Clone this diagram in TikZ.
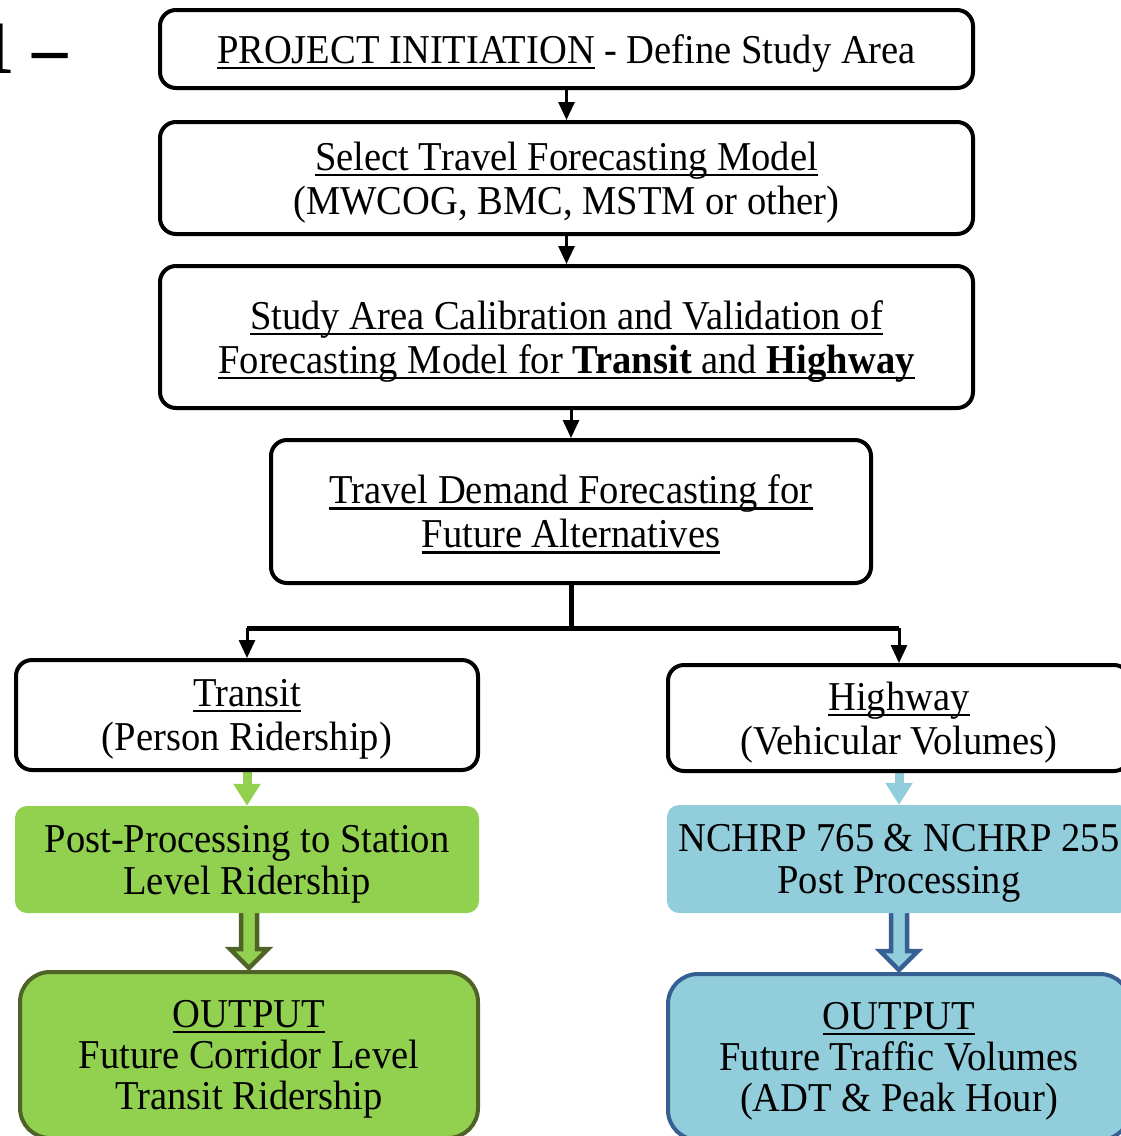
\documentclass[tikz,border=0pt]{standalone}
\usepackage{fontspec}
\setmainfont[FakeStretch=0.94]{Liberation Serif}
\usetikzlibrary{arrows.meta,calc,backgrounds}
\definecolor{lgreen}{HTML}{92D050}
\definecolor{dgreen}{HTML}{4F6228}
\definecolor{lblue}{HTML}{92CDDC}
\definecolor{dblue}{HTML}{376092}
\newcommand{\ulin}[1]{\setbox0\hbox{#1}\rlap{\rule[-0.14em]{\wd0}{0.055em}}\box0\relax}
\newcommand{\fatarrow}[4]{%
  \begin{scope}[on background layer]
    \draw[line width=4.5pt, draw=#4, fill=#3]
      ($(#1.south -| #2.north)+(-8,-6)$) -- ($(#2.north)+(-8,-21)$) -- ($(#2.north)+(-19,-21)$)
      -- ($(#2.north)+(0,-2)$) -- ($(#2.north)+(19,-21)$) -- ($(#2.north)+(8,-21)$)
      -- ($(#1.south -| #2.north)+(8,-6)$) -- cycle;
  \end{scope}}
\tikzset{
  stage/.style={draw, line width=4pt, rounded corners=16pt, align=center,
                inner sep=0pt, text depth=-2pt, font=\fontsize{41}{44}\selectfont},
  proc/.style={rounded corners=12pt, align=center, inner sep=0pt,
               text depth=-2pt, font=\fontsize{41}{42}\selectfont},
  result/.style={line width=4pt, rounded corners=30pt, align=center,
                 inner sep=0pt, text depth=-2pt, font=\fontsize{41}{41}\selectfont},
  link/.style={-{Triangle[length=18pt,width=16pt]}, line width=3pt},
  tip/.style={-{Triangle[length=22pt,width=26pt]}, line width=9pt}
}
\begin{document}
\begin{tikzpicture}[x=1pt,y=-1pt]
  \path[use as bounding box, clip] (0,0) rectangle (1121,1136);
  \node[anchor=base east, inner sep=0pt, font=\fontsize{75}{75}\bfseries\selectfont] (fig) at (68,73) {1 –};
  \node[stage, minimum width=813pt, minimum height=78pt] (init) at (566.5,49) {\ulin{PROJECT INITIATION} - Define Study Area};
  \node[stage, minimum width=813pt, minimum height=112pt] (model) at (566.5,178) {\ulin{Select Travel Forecasting Model}\\(MWCOG, BMC, MSTM or other)};
  \node[stage, minimum width=813pt, minimum height=142pt] (calib) at (566.5,337) {\ulin{Study Area Calibration and Validation of}\\\ulin{Forecasting Model for \textbf{Transit} and \textbf{Highway}}};
  \node[stage, minimum width=600pt, minimum height=143pt] (demand) at (571,511.5) {\ulin{Travel Demand Forecasting for}\\\ulin{Future Alternatives}};
  \node[stage, minimum width=462pt, minimum height=110pt] (transit) at (247,715) {\ulin{Transit}\\(Person Ridership)};
  \node[stage, minimum width=462pt, minimum height=106pt] (highway) at (899,718) {\ulin{Highway}\\(Vehicular Volumes)};
  \node[proc, fill=lgreen, minimum width=464pt, minimum height=107pt] (station) at (247,859.5) {Post-Processing to Station\\Level Ridership};
  \node[proc, fill=lblue, minimum width=464pt, minimum height=108pt] (nchrp) at (899,859) {NCHRP 765 \& NCHRP 255\\Post Processing};
  \node[result, draw=dgreen, fill=lgreen, minimum width=458pt, minimum height=166pt] (outtransit) at (249,1055) {\ulin{OUTPUT}\\Future Corridor Level\\Transit Ridership};
  \node[result, draw=dblue, fill=lblue, minimum width=462pt, minimum height=166pt] (outhighway) at (899,1057) {\ulin{OUTPUT}\\Future Traffic Volumes\\(ADT \& Peak Hour)};
  \draw[link] (init.south) -- (model.north);
  \draw[link] (model.south) -- (calib.north);
  \draw[link] (calib.south -| demand.north) -- (demand.north);
  \coordinate (split) at ($(demand.south)+(0,43)$);
  \draw[line width=5pt] (demand.south) -- (split);
  \draw[line width=5pt] (split -| transit.north) -- (split -| highway.north);
  \draw[link] (split -| transit.north) -- (transit.north);
  \draw[link] (split -| highway.north) -- (highway.north);
  \begin{scope}[on background layer]
    \draw[tip, lgreen] (transit.south) -- (station.north);
    \draw[tip, lblue] (highway.south) -- (nchrp.north);
  \end{scope}
  \fatarrow{station}{outtransit}{lgreen}{dgreen}
  \fatarrow{nchrp}{outhighway}{lblue}{dblue}
\end{tikzpicture}
\end{document}
